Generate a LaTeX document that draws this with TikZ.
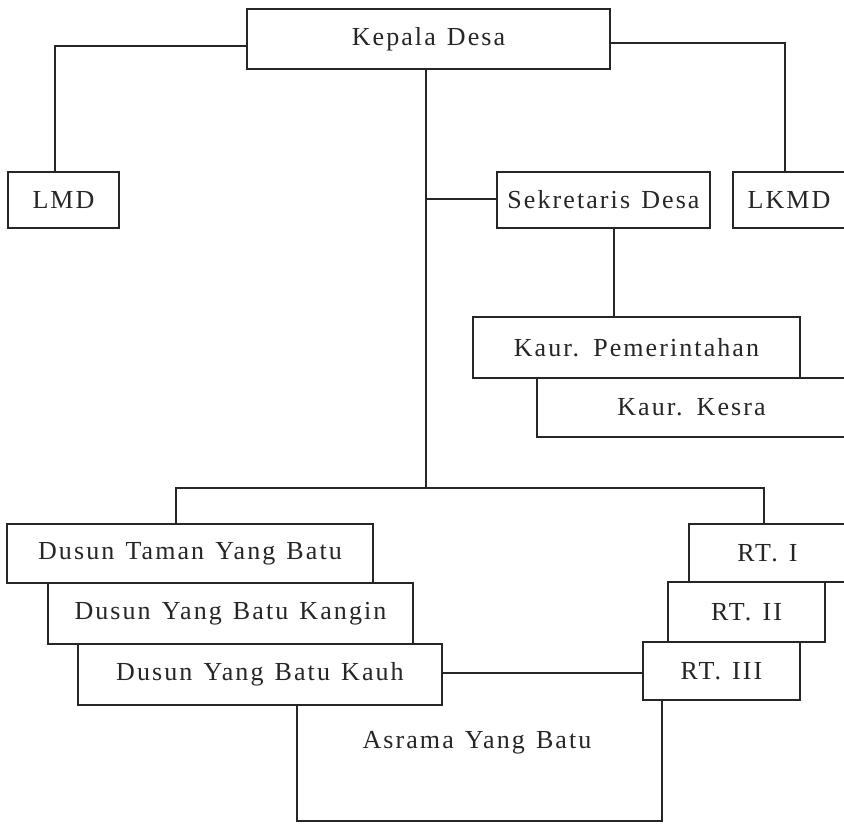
\documentclass[tikz,border=0pt]{standalone}
\usepackage{fontspec}
\setmainfont{Liberation Serif}[LetterSpace=8,WordSpace=1.3]
\definecolor{ink}{HTML}{262626}
\begin{document}
\begin{tikzpicture}[x=1pt,y=-1pt]
\tikzset{
  orgbox/.style={draw=ink, line width=2.8pt, fill=white, inner sep=0pt, text=ink,
    font=\fontsize{26}{30}\selectfont},
  link/.style={draw=ink, line width=2.8pt},
  plainlabel/.style={inner sep=0pt, text=ink, font=\fontsize{26}{30}\selectfont}
}
\useasboundingbox (0,0) rectangle (844,824);
\clip (0,0) rectangle (844,824);

% boxes
\node[orgbox, minimum width=363pt, minimum height=60pt] (kepala) at (428.5,39) {Kepala Desa};
\node[orgbox, minimum width=111pt, minimum height=56pt] (lmd) at (63.5,200) {LMD};
\node[orgbox, minimum width=112pt, minimum height=56pt] (lkmd) at (789,200) {LKMD};
\node[orgbox, minimum width=213pt, minimum height=56pt] (sek) at (603.5,200) {Sekretaris Desa};
\node[orgbox, minimum width=327pt, minimum height=61pt] (pem) at (636.5,347.5) {Kaur. Pemerintahan};
\node[orgbox, minimum width=309pt, minimum height=59pt] (kesra) at (691.5,407.5) {Kaur. Kesra};

\node[orgbox, minimum width=366pt, minimum height=59pt] (dusA) at (190,553.5) {Dusun Taman Yang Batu};
\node[orgbox, minimum width=365pt, minimum height=61pt] (dusB) at (230.5,613.5) {Dusun Yang Batu Kangin};
\node[orgbox, minimum width=364pt, minimum height=61pt] (dusC) at (260,674.5) {Dusun Yang Batu Kauh};

\node[orgbox, minimum width=157pt, minimum height=58pt] (rtA) at (767.5,553) {RT. I};
\node[orgbox, minimum width=157pt, minimum height=60pt] (rtB) at (746.5,612) {RT. II};
\node[orgbox, minimum width=157pt, minimum height=58pt] (rtC) at (721.5,671) {RT. III};

\node[plainlabel] (asrama) at (477,743) {Asrama Yang Batu};

% junction coordinates
\coordinate (jL) at (55,46);
\coordinate (jR) at (785,43);
\coordinate (jM) at (426,199);
\coordinate (jS) at (614,0);
\coordinate (busL) at (176,488);
\coordinate (busR) at (764,488);
\coordinate (jK) at (0,673);
\coordinate (aL) at (297,821);
\coordinate (aR) at (662,821);

% connectors
\draw[link] (kepala.west |- jL) -| (jL |- lmd.north);
\draw[link] (kepala.east |- jR) -| (jR |- lkmd.north);
\draw[link] (jM |- kepala.south) -- (jM |- busL);
\draw[link] (jM) -- (sek.west |- jM);
\draw[link] (jS |- sek.south) -- (jS |- pem.north);
\draw[link] (busL |- dusA.north) -- (busL) -- (busR) -- (busR |- rtA.north);
\draw[link] (dusC.east |- jK) -- (rtC.west |- jK);
\draw[link] (aL |- dusC.south) -- (aL) -- (aR) -- (aR |- rtC.south);
\end{tikzpicture}
\end{document}
